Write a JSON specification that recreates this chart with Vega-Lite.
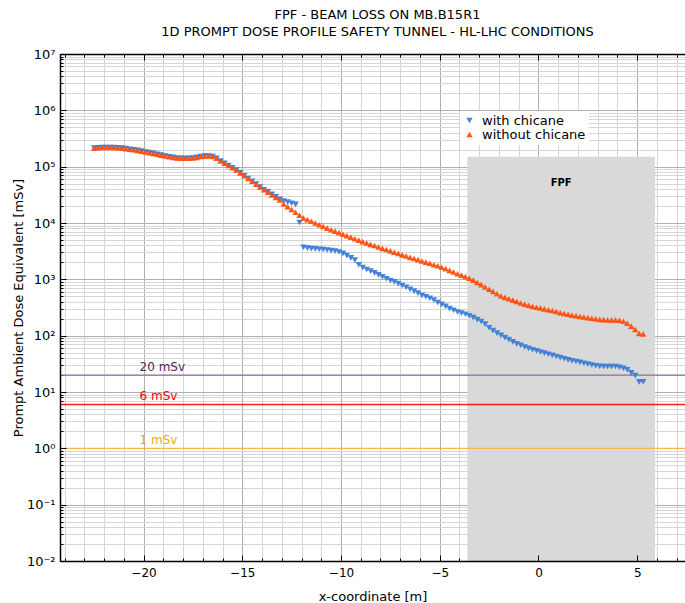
{
"$schema": "https://vega.github.io/schema/vega-lite/v6.json",
"width": 625, "height": 507,
"autosize": {"type": "none"},
"padding": {"left": 60, "top": 54, "right": 0, "bottom": 42},
"config": {"font": "DejaVu Sans", "view": {"stroke": null},
  "axis": {"labelFont": "DejaVu Sans", "titleFont": "DejaVu Sans", "labelColor": "#000", "titleColor": "#000", "titleFontWeight": "normal"},
  "legend": {"labelFont": "DejaVu Sans", "labelColor": "#000"}},
"title": {"text": ["FPF - BEAM LOSS ON MB.B15R1", "1D PROMPT DOSE PROFILE SAFETY TUNNEL - HL-LHC CONDITIONS"], "fontSize": 13, "fontWeight": "normal", "font": "DejaVu Sans", "color": "#000", "anchor": "middle", "offset": 9, "lineHeight": 17, "dx": 5},
"datasets": {
"fpf": [{"x1": -3.6, "x2": 5.9, "y1": 0.01, "y2": 150000}],
"thr": [{"v": 20, "lab": "20 mSv"}, {"v": 6, "lab": "6 mSv"}, {"v": 1, "lab": "1 mSv"}],
"pts": [
{"s":"with chicane","x":-22.5,"y":213800},{"s":"with chicane","x":-22.3,"y":216300},{"s":"with chicane","x":-22.1,"y":218800},{"s":"with chicane","x":-21.9,"y":218800},{"s":"with chicane","x":-21.7,"y":218800},{"s":"with chicane","x":-21.5,"y":218800},{"s":"with chicane","x":-21.3,"y":216300},{"s":"with chicane","x":-21.1,"y":213800},{"s":"with chicane","x":-20.9,"y":208900},{"s":"with chicane","x":-20.7,"y":204200},{"s":"with chicane","x":-20.5,"y":199500},{"s":"with chicane","x":-20.3,"y":195000},{"s":"with chicane","x":-20.1,"y":188400},{"s":"with chicane","x":-19.9,"y":182000},{"s":"with chicane","x":-19.7,"y":177800},{"s":"with chicane","x":-19.5,"y":171800},{"s":"with chicane","x":-19.3,"y":166000},{"s":"with chicane","x":-19.1,"y":160300},{"s":"with chicane","x":-18.9,"y":154900},{"s":"with chicane","x":-18.7,"y":149600},{"s":"with chicane","x":-18.5,"y":146200},{"s":"with chicane","x":-18.3,"y":142900},{"s":"with chicane","x":-18.1,"y":141300},{"s":"with chicane","x":-17.9,"y":141300},{"s":"with chicane","x":-17.7,"y":141300},{"s":"with chicane","x":-17.5,"y":142900},{"s":"with chicane","x":-17.3,"y":146200},{"s":"with chicane","x":-17.1,"y":151400},{"s":"with chicane","x":-16.9,"y":154900},{"s":"with chicane","x":-16.7,"y":154900},{"s":"with chicane","x":-16.5,"y":151400},{"s":"with chicane","x":-16.3,"y":141300},{"s":"with chicane","x":-16.1,"y":125900},{"s":"with chicane","x":-15.9,"y":114800},{"s":"with chicane","x":-15.7,"y":104700},{"s":"with chicane","x":-15.5,"y":95500},{"s":"with chicane","x":-15.3,"y":87100},{"s":"with chicane","x":-15.1,"y":77620},{"s":"with chicane","x":-14.9,"y":69180},{"s":"with chicane","x":-14.7,"y":61660},{"s":"with chicane","x":-14.5,"y":54950},{"s":"with chicane","x":-14.3,"y":48980},{"s":"with chicane","x":-14.1,"y":43650},{"s":"with chicane","x":-13.9,"y":38900},
{"s":"with chicane","x":-13.7,"y":35900},{"s":"with chicane","x":-13.5,"y":32360},{"s":"with chicane","x":-13.3,"y":29170},{"s":"with chicane","x":-13.1,"y":26300},{"s":"with chicane","x":-12.9,"y":24550},{"s":"with chicane","x":-12.7,"y":23440},{"s":"with chicane","x":-12.5,"y":22390},{"s":"with chicane","x":-12.3,"y":21380},{"s":"with chicane","x":-12.1,"y":10230},{"s":"with chicane","x":-11.9,"y":3715},{"s":"with chicane","x":-11.7,"y":3589},{"s":"with chicane","x":-11.5,"y":3508},{"s":"with chicane","x":-11.3,"y":3467},{"s":"with chicane","x":-11.1,"y":3428},{"s":"with chicane","x":-10.9,"y":3388},{"s":"with chicane","x":-10.7,"y":3311},{"s":"with chicane","x":-10.5,"y":3236},{"s":"with chicane","x":-10.3,"y":3162},{"s":"with chicane","x":-10.1,"y":3055},{"s":"with chicane","x":-9.9,"y":2884},{"s":"with chicane","x":-9.7,"y":2630},{"s":"with chicane","x":-9.5,"y":2399},{"s":"with chicane","x":-9.3,"y":2188},{"s":"with chicane","x":-9.1,"y":1820},{"s":"with chicane","x":-8.9,"y":1622},{"s":"with chicane","x":-8.7,"y":1496},{"s":"with chicane","x":-8.5,"y":1396},{"s":"with chicane","x":-8.3,"y":1303},{"s":"with chicane","x":-8.1,"y":1202},{"s":"with chicane","x":-7.9,"y":1109},{"s":"with chicane","x":-7.7,"y":1023},{"s":"with chicane","x":-7.5,"y":955},{"s":"with chicane","x":-7.3,"y":902},{"s":"with chicane","x":-7.1,"y":841},{"s":"with chicane","x":-6.9,"y":776},{"s":"with chicane","x":-6.7,"y":724},{"s":"with chicane","x":-6.5,"y":668},{"s":"with chicane","x":-6.3,"y":617},{"s":"with chicane","x":-6.1,"y":569},{"s":"with chicane","x":-5.9,"y":519},{"s":"with chicane","x":-5.7,"y":490},{"s":"with chicane","x":-5.5,"y":462},{"s":"with chicane","x":-5.3,"y":427},{"s":"with chicane","x":-5.1,"y":389},{"s":"with chicane","x":-4.9,"y":359},{"s":"with chicane","x":-4.7,"y":331},{"s":"with chicane","x":-4.5,"y":302},{"s":"with chicane","x":-4.3,"y":282},{"s":"with chicane","x":-4.1,"y":263},{"s":"with chicane","x":-3.9,"y":251},{"s":"with chicane","x":-3.7,"y":240},{"s":"with chicane","x":-3.5,"y":226},{"s":"with chicane","x":-3.3,"y":209},{"s":"with chicane","x":-3.1,"y":193},{"s":"with chicane","x":-2.9,"y":178},{"s":"with chicane","x":-2.7,"y":160},{"s":"with chicane","x":-2.5,"y":138},{"s":"with chicane","x":-2.3,"y":123},{"s":"with chicane","x":-2.1,"y":111},{"s":"with chicane","x":-1.9,"y":101},{"s":"with chicane","x":-1.7,"y":92.3},{"s":"with chicane","x":-1.5,"y":85.1},{"s":"with chicane","x":-1.3,"y":77.6},{"s":"with chicane","x":-1.1,"y":71.6},{"s":"with chicane","x":-0.9,"y":67.6},{"s":"with chicane","x":-0.7,"y":63.1},{"s":"with chicane","x":-0.5,"y":59.6},{"s":"with chicane","x":-0.3,"y":56.2},{"s":"with chicane","x":-0.1,"y":53.7},{"s":"with chicane","x":0.1,"y":51.3},{"s":"with chicane","x":0.3,"y":49.0},{"s":"with chicane","x":0.5,"y":46.8},{"s":"with chicane","x":0.7,"y":44.7},{"s":"with chicane","x":0.9,"y":42.7},{"s":"with chicane","x":1.1,"y":40.7},{"s":"with chicane","x":1.3,"y":38.9},{"s":"with chicane","x":1.5,"y":37.2},{"s":"with chicane","x":1.7,"y":35.9},{"s":"with chicane","x":1.9,"y":34.7},{"s":"with chicane","x":2.1,"y":33.5},{"s":"with chicane","x":2.3,"y":32.4},{"s":"with chicane","x":2.5,"y":31.3},{"s":"with chicane","x":2.7,"y":30.2},{"s":"with chicane","x":2.9,"y":29.2},{"s":"with chicane","x":3.1,"y":28.5},{"s":"with chicane","x":3.3,"y":28.2},{"s":"with chicane","x":3.5,"y":28.2},{"s":"with chicane","x":3.7,"y":28.2},{"s":"with chicane","x":3.9,"y":28.2},{"s":"with chicane","x":4.1,"y":27.5},{"s":"with chicane","x":4.3,"y":26.3},{"s":"with chicane","x":4.5,"y":24.8},{"s":"with chicane","x":4.7,"y":21.9},{"s":"with chicane","x":4.9,"y":19.5},{"s":"with chicane","x":5.1,"y":15.1},{"s":"with chicane","x":5.3,"y":15.1},
{"s":"without chicane","x":-22.5,"y":213800},{"s":"without chicane","x":-22.3,"y":216300},{"s":"without chicane","x":-22.1,"y":218800},{"s":"without chicane","x":-21.9,"y":218800},{"s":"without chicane","x":-21.7,"y":218800},{"s":"without chicane","x":-21.5,"y":218800},{"s":"without chicane","x":-21.3,"y":216300},{"s":"without chicane","x":-21.1,"y":213800},{"s":"without chicane","x":-20.9,"y":208900},{"s":"without chicane","x":-20.7,"y":204200},{"s":"without chicane","x":-20.5,"y":199500},{"s":"without chicane","x":-20.3,"y":195000},{"s":"without chicane","x":-20.1,"y":188400},{"s":"without chicane","x":-19.9,"y":182000},{"s":"without chicane","x":-19.7,"y":177800},{"s":"without chicane","x":-19.5,"y":171800},{"s":"without chicane","x":-19.3,"y":166000},{"s":"without chicane","x":-19.1,"y":160300},{"s":"without chicane","x":-18.9,"y":154900},{"s":"without chicane","x":-18.7,"y":149600},{"s":"without chicane","x":-18.5,"y":146200},{"s":"without chicane","x":-18.3,"y":142900},{"s":"without chicane","x":-18.1,"y":141300},{"s":"without chicane","x":-17.9,"y":141300},{"s":"without chicane","x":-17.7,"y":141300},{"s":"without chicane","x":-17.5,"y":142900},{"s":"without chicane","x":-17.3,"y":146200},{"s":"without chicane","x":-17.1,"y":151400},{"s":"without chicane","x":-16.9,"y":154900},{"s":"without chicane","x":-16.7,"y":154900},{"s":"without chicane","x":-16.5,"y":151400},{"s":"without chicane","x":-16.3,"y":141300},{"s":"without chicane","x":-16.1,"y":125900},{"s":"without chicane","x":-15.9,"y":114800},{"s":"without chicane","x":-15.7,"y":104700},{"s":"without chicane","x":-15.5,"y":95500},{"s":"without chicane","x":-15.3,"y":87100},{"s":"without chicane","x":-15.1,"y":77620},{"s":"without chicane","x":-14.9,"y":69180},{"s":"without chicane","x":-14.7,"y":61660},{"s":"without chicane","x":-14.5,"y":54950},{"s":"without chicane","x":-14.3,"y":48980},{"s":"without chicane","x":-14.1,"y":43650},{"s":"without chicane","x":-13.9,"y":38900},
{"s":"without chicane","x":-13.7,"y":35080},{"s":"without chicane","x":-13.5,"y":31620},{"s":"without chicane","x":-13.3,"y":28510},{"s":"without chicane","x":-13.1,"y":25700},{"s":"without chicane","x":-12.9,"y":21880},{"s":"without chicane","x":-12.7,"y":19500},{"s":"without chicane","x":-12.5,"y":17380},{"s":"without chicane","x":-12.3,"y":15490},{"s":"without chicane","x":-12.1,"y":13800},{"s":"without chicane","x":-11.9,"y":12300},{"s":"without chicane","x":-11.7,"y":11480},{"s":"without chicane","x":-11.5,"y":10720},{"s":"without chicane","x":-11.3,"y":10000},{"s":"without chicane","x":-11.1,"y":9333},{"s":"without chicane","x":-10.9,"y":8710},{"s":"without chicane","x":-10.7,"y":8128},{"s":"without chicane","x":-10.5,"y":7586},{"s":"without chicane","x":-10.3,"y":7161},{"s":"without chicane","x":-10.1,"y":6761},{"s":"without chicane","x":-9.9,"y":6310},{"s":"without chicane","x":-9.7,"y":5957},{"s":"without chicane","x":-9.5,"y":5623},{"s":"without chicane","x":-9.3,"y":5248},{"s":"without chicane","x":-9.1,"y":4955},{"s":"without chicane","x":-8.9,"y":4677},{"s":"without chicane","x":-8.7,"y":4416},{"s":"without chicane","x":-8.5,"y":4169},{"s":"without chicane","x":-8.3,"y":3981},{"s":"without chicane","x":-8.1,"y":3758},{"s":"without chicane","x":-7.9,"y":3548},{"s":"without chicane","x":-7.7,"y":3388},{"s":"without chicane","x":-7.5,"y":3199},{"s":"without chicane","x":-7.3,"y":3020},{"s":"without chicane","x":-7.1,"y":2884},{"s":"without chicane","x":-6.9,"y":2723},{"s":"without chicane","x":-6.7,"y":2600},{"s":"without chicane","x":-6.5,"y":2455},{"s":"without chicane","x":-6.3,"y":2344},{"s":"without chicane","x":-6.1,"y":2239},{"s":"without chicane","x":-5.9,"y":2113},{"s":"without chicane","x":-5.7,"y":2018},{"s":"without chicane","x":-5.5,"y":1928},{"s":"without chicane","x":-5.3,"y":1820},{"s":"without chicane","x":-5.1,"y":1738},{"s":"without chicane","x":-4.9,"y":1641},{"s":"without chicane","x":-4.7,"y":1549},{"s":"without chicane","x":-4.5,"y":1445},{"s":"without chicane","x":-4.3,"y":1349},{"s":"without chicane","x":-4.1,"y":1259},{"s":"without chicane","x":-3.9,"y":1189},{"s":"without chicane","x":-3.7,"y":1122},{"s":"without chicane","x":-3.5,"y":1047},{"s":"without chicane","x":-3.3,"y":966},{"s":"without chicane","x":-3.1,"y":881},{"s":"without chicane","x":-2.9,"y":804},{"s":"without chicane","x":-2.7,"y":733},{"s":"without chicane","x":-2.5,"y":668},{"s":"without chicane","x":-2.3,"y":610},{"s":"without chicane","x":-2.1,"y":556},{"s":"without chicane","x":-1.9,"y":507},{"s":"without chicane","x":-1.7,"y":479},{"s":"without chicane","x":-1.5,"y":452},{"s":"without chicane","x":-1.3,"y":427},{"s":"without chicane","x":-1.1,"y":403},{"s":"without chicane","x":-0.9,"y":380},{"s":"without chicane","x":-0.7,"y":363},{"s":"without chicane","x":-0.5,"y":347},{"s":"without chicane","x":-0.3,"y":331},{"s":"without chicane","x":-0.1,"y":320},{"s":"without chicane","x":0.1,"y":309},{"s":"without chicane","x":0.3,"y":299},{"s":"without chicane","x":0.5,"y":288},{"s":"without chicane","x":0.7,"y":279},{"s":"without chicane","x":0.9,"y":269},{"s":"without chicane","x":1.1,"y":257},{"s":"without chicane","x":1.3,"y":248},{"s":"without chicane","x":1.5,"y":240},{"s":"without chicane","x":1.7,"y":232},{"s":"without chicane","x":1.9,"y":226},{"s":"without chicane","x":2.1,"y":219},{"s":"without chicane","x":2.3,"y":214},{"s":"without chicane","x":2.5,"y":209},{"s":"without chicane","x":2.7,"y":204},{"s":"without chicane","x":2.9,"y":200},{"s":"without chicane","x":3.1,"y":195},{"s":"without chicane","x":3.3,"y":193},{"s":"without chicane","x":3.5,"y":191},{"s":"without chicane","x":3.7,"y":191},{"s":"without chicane","x":3.9,"y":191},{"s":"without chicane","x":4.1,"y":188},{"s":"without chicane","x":4.3,"y":180},{"s":"without chicane","x":4.5,"y":166},{"s":"without chicane","x":4.7,"y":148},{"s":"without chicane","x":4.9,"y":129},{"s":"without chicane","x":5.1,"y":110},{"s":"without chicane","x":5.3,"y":107}
]},
"layer": [
{"data": {"name": "fpf"}, "mark": {"type": "rect", "color": "#d9d9d9"},
 "encoding": {
  "x": {"field": "x1", "type": "quantitative", "scale": {"domain": [-24.23, 7.42], "nice": false, "zero": false},
    "axis": {"orient": "bottom", "values": [-24,-23,-22,-21,-20,-19,-18,-17,-16,-15,-14,-13,-12,-11,-10,-9,-8,-7,-6,-5,-4,-3,-2,-1,0,1,2,3,4,5,6,7],
      "grid": true, "gridColor": {"condition": {"test": "datum.value % 5 === 0", "value": "#b0b0b0"}, "value": "#d6d6d6"}, "gridWidth": 1,
      "labels": false, "ticks": true, "tickSize": -3, "tickColor": "#000", "domain": false, "title": null, "zindex": 0}},
  "x2": {"field": "x2"},
  "y": {"field": "y1", "type": "quantitative", "scale": {"type": "log", "domain": [0.01, 10000000], "nice": false},
    "axis": {"orient": "left", "values": [0.01,0.02,0.03,0.04,0.05,0.06,0.07,0.08,0.09,0.1,0.2,0.3,0.4,0.5,0.6,0.7,0.8,0.9,1,2,3,4,5,6,7,8,9,10,20,30,40,50,60,70,80,90,100,200,300,400,500,600,700,800,900,1000,2000,3000,4000,5000,6000,7000,8000,9000,10000,20000,30000,40000,50000,60000,70000,80000,90000,100000,200000,300000,400000,500000,600000,700000,800000,900000,1000000,2000000,3000000,4000000,5000000,6000000,7000000,8000000,9000000,10000000],
      "grid": true, "gridColor": {"condition": {"test": "abs(log(datum.value)/LN10 - round(log(datum.value)/LN10)) < 0.000001", "value": "#b0b0b0"}, "value": "#d6d6d6"}, "gridWidth": 1,
      "labels": false, "ticks": true, "tickSize": -3, "tickColor": "#000", "domain": false, "title": null, "zindex": 0}},
  "y2": {"field": "y2"}
 }},
{"data": {"name": "thr"}, "mark": {"type": "rule", "strokeWidth": 1.3},
 "encoding": {
  "y": {"field": "v", "type": "quantitative", "scale": {"type": "log", "domain": [0.01, 10000000], "nice": false}, "axis": null},
  "color": {"field": "lab", "type": "nominal", "scale": {"domain": ["20 mSv", "6 mSv", "1 mSv"], "range": ["#8a6a9a", "#ff1a1a", "#f6b64e"]}, "legend": null}
 }},
{"data": {"name": "thr"}, "mark": {"type": "text", "align": "left", "baseline": "alphabetic", "dy": -4, "fontSize": 12, "font": "DejaVu Sans"},
 "encoding": {
  "x": {"datum": -20.2, "type": "quantitative", "scale": {"domain": [-24.23, 7.42], "nice": false, "zero": false},
    "axis": {"orient": "top", "values": [-24,-23,-22,-21,-20,-19,-18,-17,-16,-15,-14,-13,-12,-11,-10,-9,-8,-7,-6,-5,-4,-3,-2,-1,0,1,2,3,4,5,6,7],
      "grid": false, "labels": false, "ticks": true, "tickColor": "#000", "tickSize": {"condition": {"test": "datum.value % 5 === 0", "value": -6}, "value": -3},
      "domain": true, "domainColor": "#000", "domainWidth": 1.5, "title": null, "zindex": 1}},
  "y": {"field": "v", "type": "quantitative", "scale": {"type": "log", "domain": [0.01, 10000000], "nice": false}, "axis": null},
  "text": {"field": "lab"},
  "color": {"field": "lab", "type": "nominal", "scale": {"domain": ["20 mSv", "6 mSv", "1 mSv"], "range": ["#4e1f60", "#ff0000", "#f7a81b"]}, "legend": null}
 }},
{"data": {"name": "fpf"}, "mark": {"type": "text", "fontWeight": "bold", "fontSize": 10, "font": "DejaVu Sans", "color": "#000", "baseline": "middle", "align": "center"},
 "encoding": {
  "x": {"datum": 1.15, "type": "quantitative", "scale": {"domain": [-24.23, 7.42], "nice": false, "zero": false}, "axis": null},
  "y": {"datum": 51000, "type": "quantitative", "scale": {"type": "log", "domain": [0.01, 10000000], "nice": false}, "axis": null},
  "text": {"value": "FPF"}
 }},
{"data": {"name": "pts"}, "mark": {"type": "point", "filled": true, "size": 42, "opacity": 0.95},
 "encoding": {
  "x": {"field": "x", "type": "quantitative", "scale": {"domain": [-24.23, 7.42], "nice": false, "zero": false},
    "axis": {"orient": "bottom", "values": [-20, -15, -10, -5, 0, 5], "grid": false, "labels": true, "labelFontSize": 12, "labelPadding": 12,
      "ticks": true, "tickSize": -6, "tickColor": "#000", "domain": true, "domainColor": "#000", "domainWidth": 1.5,
      "title": "x-coordinate [m]", "titleFontSize": 13, "titlePadding": 12, "zindex": 1}},
  "y": {"field": "y", "type": "quantitative", "scale": {"type": "log", "domain": [0.01, 10000000], "nice": false},
    "axis": {"orient": "left", "values": [0.01, 0.1, 1, 10, 100, 1000, 10000, 100000, 1000000, 10000000], "grid": false, "labelFontSize": 13, "labelPadding": 11,
      "labelExpr": "datum.value == 0.01 ? '10⁻²' : datum.value == 0.1 ? '10⁻¹' : datum.value == 1 ? '10⁰' : datum.value == 10 ? '10¹' : datum.value == 100 ? '10²' : datum.value == 1000 ? '10³' : datum.value == 10000 ? '10⁴' : datum.value == 100000 ? '10⁵' : datum.value == 1000000 ? '10⁶' : '10⁷'",
      "ticks": true, "tickSize": -6, "tickColor": "#000", "domain": true, "domainColor": "#000", "domainWidth": 1.5,
      "title": "Prompt Ambient Dose Equivalent [mSv]", "titleFontSize": 13, "titlePadding": 1, "zindex": 1}},
  "color": {"field": "s", "type": "nominal", "scale": {"domain": ["with chicane", "without chicane"], "range": ["#3b7dd8", "#ff4f0f"]},
    "legend": {"orient": "none", "legendX": 400, "legendY": 57, "title": null, "fillColor": "white", "padding": 3, "labelFontSize": 13, "symbolSize": 40, "rowPadding": 0, "labelOffset": 6}},
  "shape": {"field": "s", "type": "nominal", "scale": {"domain": ["with chicane", "without chicane"], "range": ["triangle-down", "triangle-up"]}}
 }}
],
"resolve": {"scale": {"color": "independent", "shape": "independent"}, "axis": {"x": "independent", "y": "independent"}}
}
